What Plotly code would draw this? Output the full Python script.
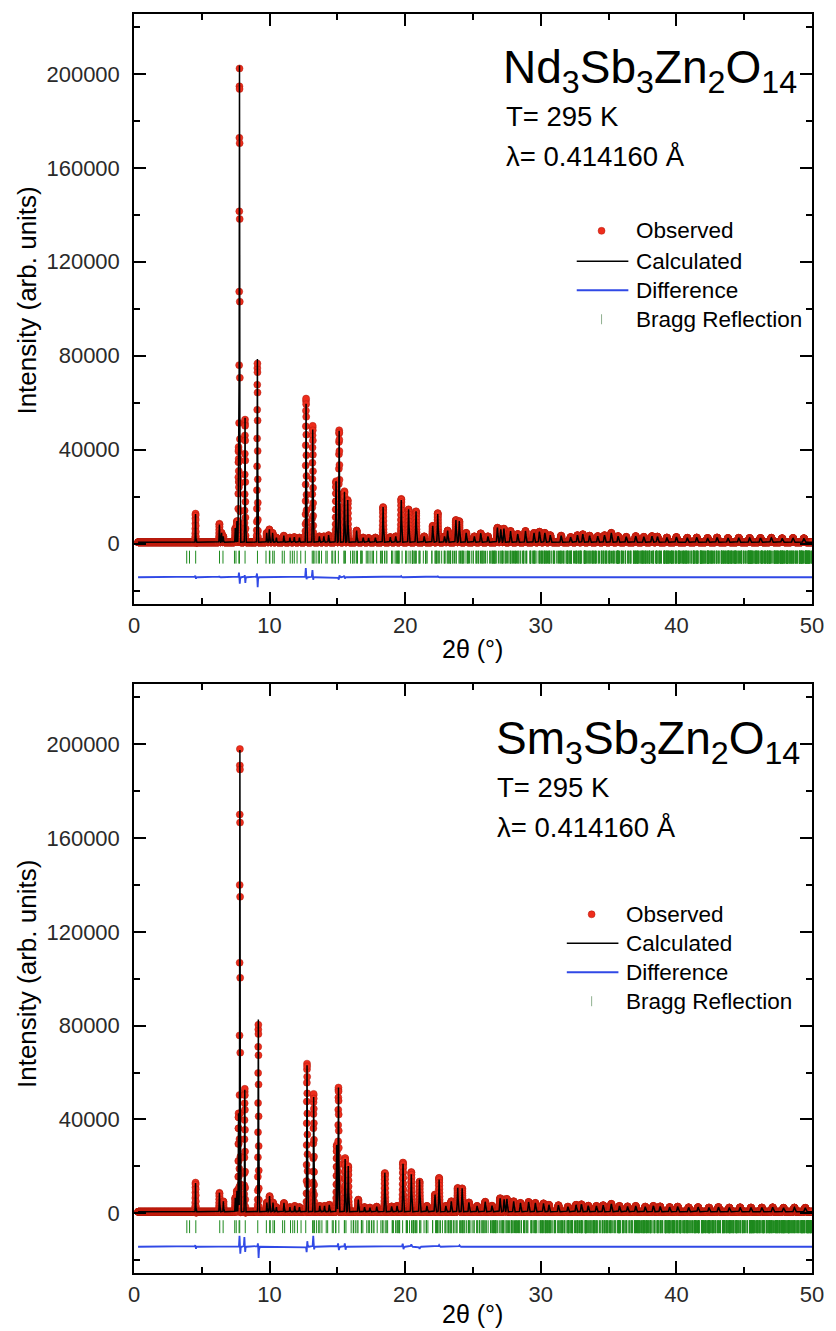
import numpy as np
import plotly.graph_objects as go

# ---------------- data ----------------
wavelength = 0.414160          # Å
two_theta_start, two_theta_end, two_theta_step = 0.3, 50.0, 0.005
background = 600
diff_offset = -14300
bragg_top, bragg_bottom = -3000, -8500

# Nd3Sb3Zn2O14 : peak positions (2θ) and calculated heights
nd_peak_pos = [4.54, 6.30, 6.46, 6.58, 7.47, 7.59, 7.71, 7.78, 8.19, 9.10, 9.79, 9.98, 10.22, 10.5,
               11.05, 11.5, 11.82, 12.2, 12.69, 13.18, 13.67, 14.0, 14.35, 14.9, 15.13, 15.52, 15.76,
               16.42, 16.9, 17.3, 17.8, 18.37, 18.9, 19.3, 19.71, 20.25, 20.8, 21.4, 22.03, 22.4,
               22.9, 23.13, 23.74, 23.99, 24.5, 25.1, 25.57, 26.1, 26.8, 27.05, 27.28, 27.77, 28.3,
               28.87, 29.5, 29.9, 30.3, 30.7, 31.5, 32.2, 32.7, 33.1, 33.6, 34.2, 34.7, 35.2, 35.7,
               36.3, 37.0, 37.6, 38.2, 38.6, 39.3, 40.0, 40.8, 41.5, 42.3, 43.0, 43.8, 44.6, 45.4,
               46.2, 47.0, 47.8, 48.6, 49.4]
nd_peak_int = [12000, 7500, 4000, 2500, 6000, 9000, 40000, 203000, 53000, 78000, 4000, 5500, 4000, 2000,
               2800, 2000, 2200, 2000, 59000, 48000, 2500, 2500, 3000, 26000, 47500, 21500, 18000,
               5000, 2000, 1800, 2000, 15000, 2200, 2500, 18000, 14000, 13200, 2500, 7000, 12000,
               2500, 5000, 9500, 9000, 4000, 2500, 3800, 2500, 6200, 5500, 5800, 4800, 3500,
               4800, 4000, 4500, 4000, 3000, 2800, 2200, 3000, 3400, 2800, 2600, 3000, 4000, 2600,
               2300, 2600, 2300, 2600, 2400, 2000, 2200, 1900, 2000, 1800, 2000, 1800, 1900, 1800,
               1800, 1900, 1700, 1800, 1700]
nd_diff_pos = [4.52, 4.57, 6.29, 7.74, 7.80, 8.17, 8.21, 9.07, 9.12, 12.67, 12.72, 13.16, 13.21,
               15.10, 15.15, 15.50, 15.55, 19.70, 22.40]
nd_diff_amp = [700, -700, 500, 2000, -2800, 1000, -2500, 1700, -4300, 4000, -1000, 3100, -1200,
               -1100, 900, 700, -600, 500, 400]
nd_lattice = (7.53, 17.40)     # a, c (Å), hexagonal setting of R-3m

# Sm3Sb3Zn2O14
sm_peak_pos = [4.54, 6.30, 6.59, 7.47, 7.59, 7.71, 7.81, 8.17, 9.17, 9.80, 10.0, 10.25, 10.5,
               11.06, 11.5, 11.85, 12.2, 12.76, 13.25, 13.7, 14.05, 14.4, 14.95, 15.08, 15.57, 15.80,
               16.54, 17.0, 17.4, 17.9, 18.5, 19.0, 19.4, 19.84, 20.45, 21.06, 21.6, 22.2, 22.5,
               23.0, 23.4, 23.87, 24.2, 24.7, 25.3, 25.9, 26.4, 27.0, 27.3, 27.5, 28.0, 28.5,
               29.1, 29.6, 30.2, 30.6, 31.3, 32.0, 32.6, 33.0, 33.5, 34.1, 34.6, 35.2, 35.8,
               36.4, 37.0, 37.7, 38.3, 38.8, 39.5, 40.1, 40.9, 41.6, 42.4, 43.1, 43.9, 44.7, 45.5,
               46.3, 47.1, 47.9, 48.7, 49.5]
sm_peak_int = [12300, 8100, 4500, 6000, 9000, 42000, 197000, 52000, 82000, 4000, 6700, 4000, 2000,
               3800, 2000, 2500, 2000, 62500, 49000, 2500, 2500, 3000, 28500, 53000, 22500, 19500,
               5200, 2000, 1800, 2200, 16600, 2300, 2500, 20500, 16000, 13800, 2500, 7400, 13800,
               2500, 4500, 10200, 10000, 4000, 2500, 4300, 2600, 5800, 5300, 5500, 4500, 3800,
               4200, 3800, 3600, 3000, 2800, 2200, 3000, 3200, 2600, 2500, 2800, 3400, 2500,
               2300, 2500, 2200, 2500, 2300, 2000, 2200, 1900, 2000, 1800, 2000, 1800, 1900, 1800,
               1800, 1900, 1700, 1800, 1700]
sm_diff_pos = [4.52, 4.57, 7.78, 7.84, 8.14, 8.20, 9.14, 9.19, 12.73, 12.78, 13.22, 13.28,
               15.05, 15.11, 15.55, 15.60, 19.82, 19.87, 20.45, 21.06, 22.50, 24.00]
sm_diff_amp = [700, -900, 4700, -3000, 4100, -2200, 1600, -4800, -2500, 2500, 4700, -1200,
               1500, -1500, 1500, -1400, 1500, -1200, 1000, -900, 700, 600]
sm_lattice = (7.51, 17.37)

compound_labels = ["Nd<sub>3</sub>Sb<sub>3</sub>Zn<sub>2</sub>O<sub>14</sub>",
                   "Sm<sub>3</sub>Sb<sub>3</sub>Zn<sub>2</sub>O<sub>14</sub>"]
temperature_label = "T= 295 K"
wavelength_label = "λ= 0.414160 Å"
series_names = ["Observed", "Calculated", "Difference", "Bragg Reflection"]
x_tick_vals = [0, 10, 20, 30, 40, 50]
y_tick_vals = [0, 40000, 80000, 120000, 160000, 200000]

# ---------------- helpers ----------------
tt = np.arange(two_theta_start, two_theta_end + 1e-9, two_theta_step)


def peaks(pos, amp):
    pos = np.asarray(pos, float)
    amp = np.asarray(amp, float)
    sig = 0.012 + 0.0007 * pos
    return (amp[None, :] * np.exp(-((tt[:, None] - pos[None, :]) ** 2) / (2 * sig[None, :] ** 2))).sum(axis=1)


def bragg_positions(a, c):
    r = np.arange(-15, 16)
    rl = np.arange(-40, 41)
    h, k, l = np.meshgrid(r, r, rl, indexing="ij")
    ok = ((-h + k + l) % 3 == 0) & ~((h == 0) & (k == 0) & (l == 0))
    inv_d2 = 4.0 / 3.0 * (h ** 2 + h * k + k ** 2) / a ** 2 + l ** 2 / c ** 2
    s = wavelength * np.sqrt(inv_d2[ok]) / 2
    s = s[s < np.sin(np.radians(25))]
    ang = 2 * np.degrees(np.arcsin(s))
    return np.unique(np.round(ang, 3))


def tick_xy(pos):
    xs, ys = [], []
    for p in pos:
        xs += [p, p, None]
        ys += [bragg_top, bragg_bottom, None]
    return xs, ys


fig = go.Figure()
panels = [
    (nd_peak_pos, nd_peak_int, nd_diff_pos, nd_diff_amp, nd_lattice, "x", "y"),
    (sm_peak_pos, sm_peak_int, sm_diff_pos, sm_diff_amp, sm_lattice, "x2", "y2"),
]
RED, RED_EDGE, BLACK, BLUE, GREEN = "#ee2d1c", "#b01a0c", "#000000", "#3049e6", "#1f8a1f"
for ppos, pint, dpos, damp, lat, xa, ya in panels:
    calc = background + peaks(ppos, pint)
    diff = peaks(dpos, damp)
    obs = calc + diff
    bx, by = tick_xy(bragg_positions(*lat))
    fig.add_trace(go.Scatter(x=tt, y=obs, mode="markers", name=series_names[0], showlegend=False,
                             marker=dict(color=RED, size=7, line=dict(color=RED_EDGE, width=0.5)),
                             xaxis=xa, yaxis=ya))
    fig.add_trace(go.Scatter(x=tt, y=calc, mode="lines", name=series_names[1], showlegend=False,
                             line=dict(color=BLACK, width=1.5), xaxis=xa, yaxis=ya))
    fig.add_trace(go.Scatter(x=tt, y=diff + diff_offset, mode="lines", name=series_names[2],
                             showlegend=False, line=dict(color=BLUE, width=1.8), xaxis=xa, yaxis=ya))
    fig.add_trace(go.Scatter(x=bx, y=by, mode="lines", name=series_names[3], showlegend=False,
                             line=dict(color=GREEN, width=1), xaxis=xa, yaxis=ya))

FONT = "Liberation Sans, Arial, sans-serif"
axis_common = dict(showline=True, linecolor="black", linewidth=1.5, mirror="ticks",
                   ticks="inside", ticklen=12, tickwidth=1.5, tickcolor="black",
                   showgrid=False, zeroline=False,
                   tickfont=dict(family=FONT, size=22, color="#2a2a2a"))
xaxis_cfg = dict(axis_common, range=[0, 50], tickvals=x_tick_vals, ticklabelstandoff=1,
                 minor=dict(dtick=5, tick0=0, ticks="inside", ticklen=6, tickwidth=1.5, tickcolor="black"))
yaxis_cfg = dict(axis_common, range=[-25500, 225500], tickvals=y_tick_vals, tickformat="d",
                 ticklabelstandoff=8,
                 minor=dict(dtick=20000, tick0=0, ticks="inside", ticklen=6, tickwidth=1.5, tickcolor="black"))

H, T_M, B_M, L_M, R_M = 1331, 13, 58, 134, 19
PH = H - T_M - B_M
PW = 836 - L_M - R_M


def py(px):
    return (H - B_M - px) / PH


def pxx(px):
    return (px - L_M) / PW


fig.update_layout(
    width=836, height=H, margin=dict(l=L_M, r=R_M, t=T_M, b=B_M),
    paper_bgcolor="white", plot_bgcolor="white",
    font=dict(family=FONT, color="black"),
    xaxis=dict(xaxis_cfg, domain=[0, 1], anchor="y"),
    yaxis=dict(yaxis_cfg, domain=[py(603), 1], anchor="x"),
    xaxis2=dict(xaxis_cfg, domain=[0, 1], anchor="y2"),
    yaxis2=dict(yaxis_cfg, domain=[0, py(684)], anchor="x2"),
    showlegend=False,
)

ann, shapes = [], []
for i, (top_px, title_x, txt_x) in enumerate([(13, 504, 507), (684, 497, 498)]):
    off = top_px - 13
    ann.append(dict(text=compound_labels[i], x=pxx(title_x), y=py(70 + off), xref="paper", yref="paper",
                    xanchor="left", yanchor="middle", showarrow=False,
                    font=dict(family=FONT, size=46, color="black")))
    ann.append(dict(text=temperature_label, x=pxx(txt_x), y=py(116 + off), xref="paper", yref="paper",
                    xanchor="left", yanchor="middle", showarrow=False,
                    font=dict(family=FONT, size=27.5, color="black")))
    ann.append(dict(text=wavelength_label, x=pxx(txt_x), y=py(156 + off), xref="paper", yref="paper",
                    xanchor="left", yanchor="middle", showarrow=False,
                    font=dict(family=FONT, size=27.5, color="black")))
    ann.append(dict(text="2θ (°)", x=pxx(475), y=py([649, 1314][i]), xref="paper", yref="paper",
                    xanchor="center", yanchor="middle", showarrow=False,
                    font=dict(family=FONT, size=25, color="black")))
    ann.append(dict(text="Intensity (arb. units)", x=pxx(26), y=py([300, 974][i]), xref="paper",
                    yref="paper", xanchor="center", yanchor="middle", textangle=-90, showarrow=False,
                    font=dict(family=FONT, size=26, color="black")))

    # legend (drawn as a key: symbol + label)
    text_x = [638, 628][i]
    sym_x = [605, 595][i]
    rows = [[230, 260.5, 289.5, 318.5], [914, 943, 972, 1001]][i]
    for name, yy in zip(series_names, rows):
        ann.append(dict(text=name, x=pxx(text_x), y=py(yy), xref="paper", yref="paper",
                        xanchor="left", yanchor="middle", showarrow=False,
                        font=dict(family=FONT, size=22.5, color="black")))
    shapes.append(dict(type="circle", xref="paper", yref="paper",
                       x0=pxx(sym_x - 3.5), x1=pxx(sym_x + 3.5), y0=py(rows[0] + 3.5), y1=py(rows[0] - 3.5),
                       fillcolor=RED, line=dict(color=RED_EDGE, width=0.5)))
    shapes.append(dict(type="line", xref="paper", yref="paper", x0=pxx(sym_x - 25), x1=pxx(sym_x + 27),
                       y0=py(rows[1]), y1=py(rows[1]), line=dict(color=BLACK, width=1.5)))
    shapes.append(dict(type="line", xref="paper", yref="paper", x0=pxx(sym_x - 25), x1=pxx(sym_x + 27),
                       y0=py(rows[2]), y1=py(rows[2]), line=dict(color=BLUE, width=2)))
    shapes.append(dict(type="line", xref="paper", yref="paper", x0=pxx(sym_x), x1=pxx(sym_x),
                       y0=py(rows[3] - 5), y1=py(rows[3] + 5), line=dict(color="#8fb08f", width=1)))
fig.update_layout(annotations=ann, shapes=shapes)

fig.write_html("out.html", config={"displayModeBar": False},
               post_script="document.body.style.margin='0px';")
